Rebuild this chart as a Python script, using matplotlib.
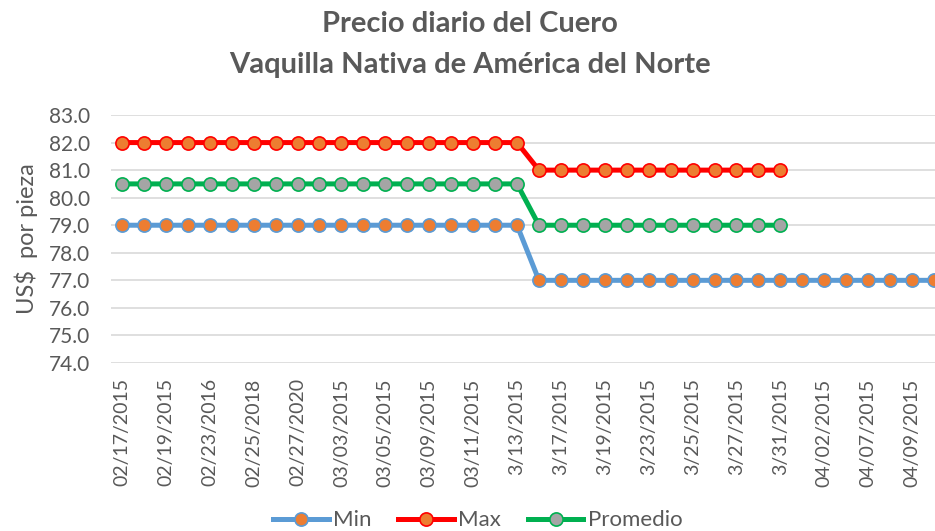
import matplotlib.pyplot as plt
import numpy as np

# categories (Excel shows only every other label)
dates = ["02/17/2015", "02/18/2015", "02/19/2015", "02/20/2015", "02/23/2016",
         "02/24/2016", "02/25/2018", "02/26/2018", "02/27/2020", "03/02/2015",
         "03/03/2015", "03/04/2015", "03/05/2015", "03/06/2015", "03/09/2015",
         "03/10/2015", "03/11/2015", "03/12/2015", "3/13/2015", "3/16/2015",
         "3/17/2015", "3/18/2015", "3/19/2015", "3/20/2015", "3/23/2015",
         "3/24/2015", "3/25/2015", "3/26/2015", "3/27/2015", "3/30/2015",
         "3/31/2015", "04/01/2015", "04/02/2015", "04/06/2015", "04/07/2015",
         "04/08/2015", "04/09/2015", "04/10/2015"]

min_vals = [79, 79, 79, 79, 79, 79, 79, 79, 79, 79, 79, 79, 79, 79, 79, 79, 79, 79, 79,
            77, 77, 77, 77, 77, 77, 77, 77, 77, 77, 77, 77, 77, 77, 77, 77, 77, 77, 77]
max_vals = [82, 82, 82, 82, 82, 82, 82, 82, 82, 82, 82, 82, 82, 82, 82, 82, 82, 82, 82,
            81, 81, 81, 81, 81, 81, 81, 81, 81, 81, 81, 81]
prom_vals = [80.5, 80.5, 80.5, 80.5, 80.5, 80.5, 80.5, 80.5, 80.5, 80.5, 80.5, 80.5,
             80.5, 80.5, 80.5, 80.5, 80.5, 80.5, 80.5,
             79, 79, 79, 79, 79, 79, 79, 79, 79, 79, 79, 79]

plt.rcParams['font.family'] = ['Lato', 'DejaVu Sans']
gray = '#595959'

fig = plt.figure(figsize=(9.35, 5.31), dpi=100)
ax = fig.add_axes([0.1187, 0.3164, 0.892, 0.467])

series = [
    ("Min", min_vals, '#5B9BD5', '#ED7D31'),
    ("Max", max_vals, '#FF0000', '#ED7D31'),
    ("Promedio", prom_vals, '#00B050', '#A5A5A5'),
]
for name, vals, line_c, face_c in series:
    x = np.arange(len(vals))
    ax.plot(x, vals, '-o', color=line_c, lw=3.6, markersize=9.5,
            markerfacecolor=face_c, markeredgecolor=line_c, markeredgewidth=1.2,
            label=name, zorder=3)

ax.set_ylim(74, 83)
ax.set_yticks(np.arange(74, 83.5, 1))
ax.set_yticklabels([f"{v:.1f}" for v in np.arange(74, 83.5, 1)])
ax.set_xlim(-0.5, len(dates) - 0.5)
ax.set_xticks(np.arange(0, len(dates), 2))
ax.set_xticklabels(dates[::2], rotation=90, va='top', ha='center')
ax.grid(axis='y', color='#D9D9D9', lw=1.2)
ax.set_axisbelow(True)
for s in ax.spines.values():
    s.set_visible(False)
ax.tick_params(length=0, colors=gray)
ax.tick_params(axis='x', pad=11, labelsize=14)
ax.tick_params(axis='y', pad=15, labelsize=15)

ax.set_ylabel("US$  por pieza", color=gray, fontsize=17)
ax.yaxis.set_label_coords(-0.088, 0.5)

fig.text(0.503, 0.955, "Precio diario del Cuero", ha='center', va='center',
         fontsize=21, fontweight='bold', color=gray)
fig.text(0.503, 0.877, "Vaquilla Nativa de América del Norte", ha='center', va='center',
         fontsize=21, fontweight='bold', color=gray)

fig.legend(loc='center', bbox_to_anchor=(0.511, 0.02), ncol=3, frameon=False,
           fontsize=16, labelcolor=gray, handlelength=2.5, columnspacing=1.2,
           handletextpad=0.2)

fig.savefig("out.png", dpi=100)
